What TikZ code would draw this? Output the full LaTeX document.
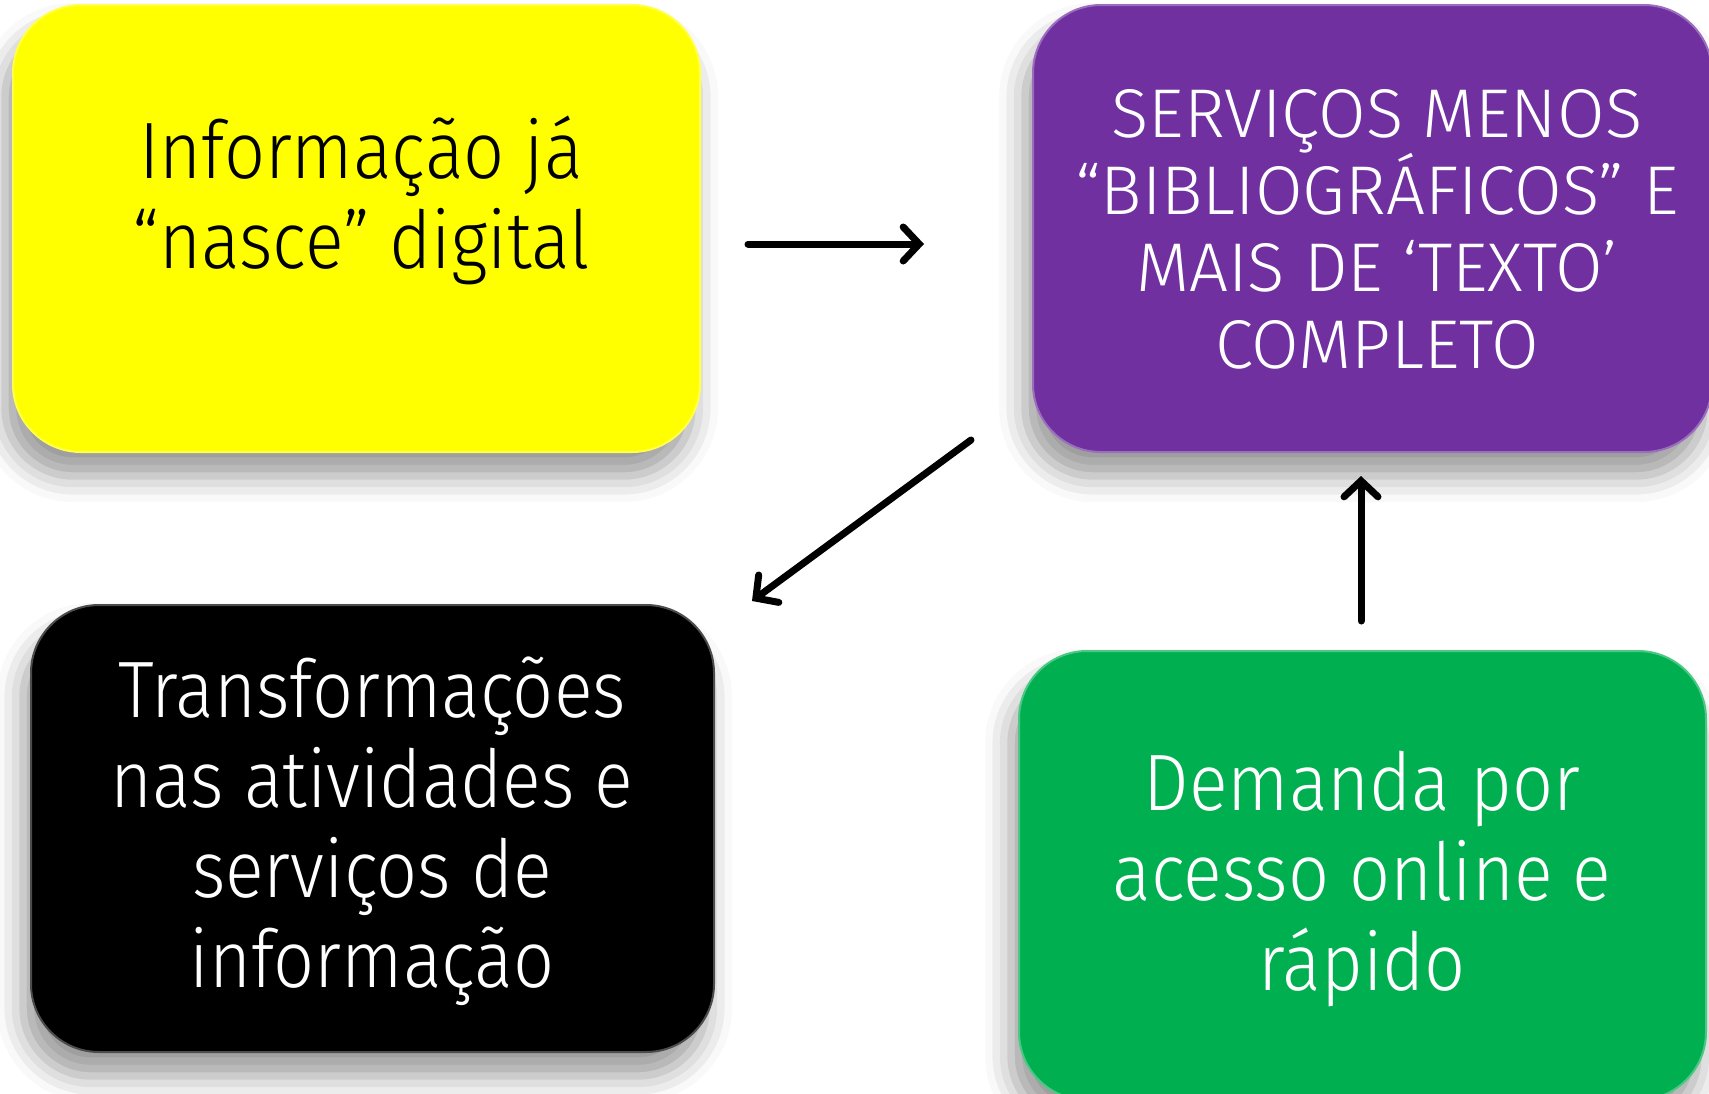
\documentclass[tikz,border=0pt]{standalone}
\usepackage{fontspec}
\setmainfont{Fira Sans Light}[FakeStretch=0.9]
\newfontfamily\widefont{Fira Sans Light}[FakeStretch=1.0]
\usetikzlibrary{arrows.meta,shadows.blur}
\definecolor{cyellow}{HTML}{FFFF00}
\definecolor{cpurple}{HTML}{7030A0}
\definecolor{cgreen}{HTML}{00B050}
\tikzset{
  box/.style={rounded corners=68pt, line width=2pt, inner sep=0pt,
    blur shadow={shadow xshift=-8pt, shadow yshift=-24pt, shadow blur radius=26pt, shadow opacity=40}},
  big/.style={align=center, font=\fontsize{80}{90}\selectfont},
  small/.style={align=center, font=\widefont\fontsize{69}{77}\selectfont},
  conn/.style={line width=7pt, line cap=round, -{Straight Barb[length=16pt,width=34pt,line cap=round]}}
}
\begin{document}
\begin{tikzpicture}[x=1pt,y=-1pt]
\useasboundingbox (0,0) rectangle (1709,1093);
\node[box, fill=cyellow, draw=cyellow!70!white, minimum width=687pt, minimum height=447pt] (yb) at (356.5,228.5) {};
\node[box, fill=cpurple, draw=cpurple!70!white, minimum width=679pt, minimum height=447pt] (pb) at (1372.5,228.5) {};
\node[box, fill=black, draw=black!70!white, minimum width=683pt, minimum height=447pt] (bb) at (372.5,828.5) {};
\node[box, fill=cgreen, draw=cgreen!70!white, minimum width=687pt, minimum height=449pt] (gb) at (1362.5,875.5) {};
\node[big, text=black] (yt) at (361,200) {Informação já\\“nasce” digital};
\node[small, text=white] (pt) at (1377,229) {SERVIÇOS MENOS\\“BIBLIOGRÁFICOS” E\\MAIS DE ‘TEXTO’\\COMPLETO};
\node[big, text=white] (bt) at (372,831) {Transformações\\nas atividades e\\serviços de\\informação};
\node[big, text=white] (gt) at (1362,879) {Demanda por\\acesso online e\\rápido};
\coordinate (a1s) at (748,244);
\coordinate (a1e) at (924,244);
\coordinate (a2s) at (971,440);
\coordinate (a2e) at (752,601);
\coordinate (a3s) at (1361,621);
\coordinate (a3e) at (1361,476);
\draw[conn] (a1s) -- (a1e);
\draw[conn] (a2s) -- (a2e);
\draw[conn] (a3s) -- (a3e);
\end{tikzpicture}
\end{document}
